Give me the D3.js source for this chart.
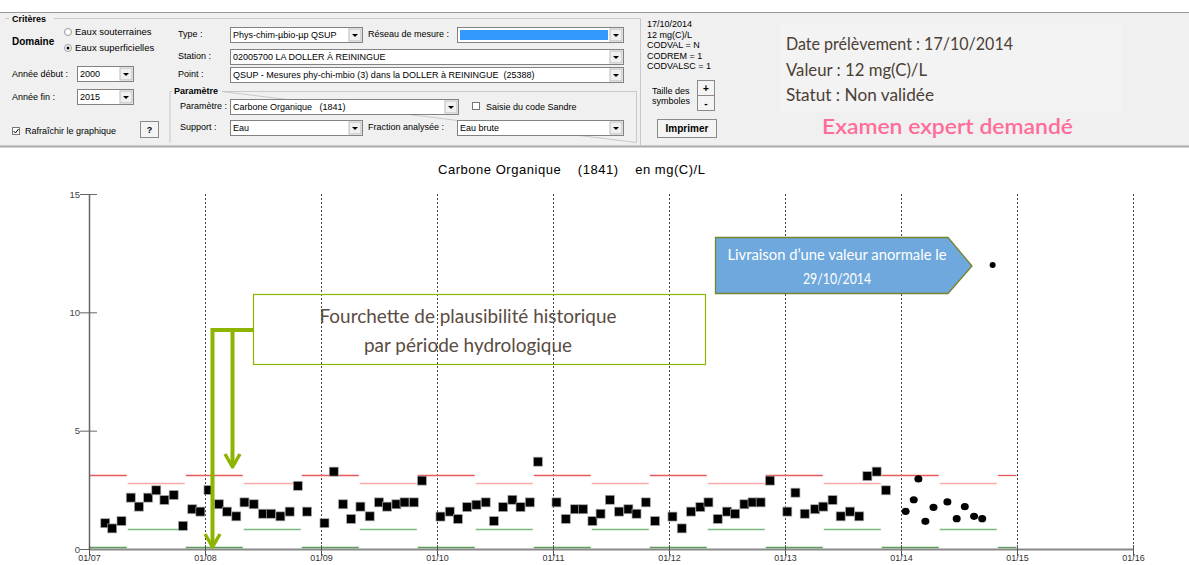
<!DOCTYPE html>
<html>
<head>
<meta charset="utf-8">
<script src="https://cdn.jsdelivr.net/npm/d3@7"></script>
<style>
  body { margin: 0; background: #fff; }
  svg text { font-family: "Liberation Sans", Arial, sans-serif; }
</style>
</head>
<body>
<svg id="chart"></svg>
<script>
var width = 1189;
var height = 565;

// mesures validées (année décimale, mg(C)/L)
var validDates = [2007.14, 2007.20, 2007.28, 2007.36, 2007.43, 2007.51, 2007.58, 2007.65, 2007.73, 2007.81,
  2007.89, 2007.96, 2008.03, 2008.12, 2008.19, 2008.27, 2008.34, 2008.42, 2008.50, 2008.57, 2008.65, 2008.73,
  2008.80, 2008.88, 2009.03, 2009.11, 2009.19, 2009.26, 2009.34, 2009.42, 2009.50, 2009.57, 2009.65, 2009.72,
  2009.80, 2009.87, 2010.03, 2010.11, 2010.18, 2010.26, 2010.34, 2010.42, 2010.49, 2010.57, 2010.65, 2010.72,
  2010.80, 2010.87, 2011.03, 2011.11, 2011.19, 2011.26, 2011.34, 2011.41, 2011.49, 2011.57, 2011.65, 2011.72,
  2011.80, 2011.88, 2012.03, 2012.11, 2012.19, 2012.27, 2012.34, 2012.42, 2012.50, 2012.57, 2012.65, 2012.72,
  2012.79, 2012.87, 2013.02, 2013.09, 2013.17, 2013.26, 2013.33, 2013.41, 2013.48, 2013.56, 2013.64, 2013.71,
  2013.79, 2013.87];
var validValues = [1.09, 0.87, 1.18, 2.17, 1.79, 2.17, 2.48, 2.07, 2.28, 0.98,
  1.68, 1.58, 2.49, 1.89, 1.58, 1.38, 1.97, 1.89, 1.49, 1.49, 1.38, 1.58,
  2.67, 1.58, 1.09, 3.27, 1.89, 1.27, 1.79, 1.38, 1.97, 1.79, 1.89, 1.97,
  1.97, 2.89, 1.37, 1.58, 1.27, 1.77, 1.87, 1.97, 1.18, 1.77, 2.08, 1.77,
  1.97, 3.69, 1.97, 1.27, 1.68, 1.68, 1.18, 1.49, 2.08, 1.58, 1.68, 1.49,
  1.97, 1.18, 1.37, 0.87, 1.58, 1.77, 1.97, 1.27, 1.58, 1.49, 1.89, 1.97,
  1.97, 2.89, 1.58, 2.38, 1.49, 1.68, 1.79, 2.07, 1.38, 1.58, 1.38, 3.08,
  3.27, 2.48];

// mesures non validées 2014
var pendingDates = [2014.04, 2014.11, 2014.15, 2014.21, 2014.28, 2014.40, 2014.48, 2014.55, 2014.63, 2014.70];
var pendingValues = [1.59, 2.08, 2.96, 1.17, 1.76, 1.99, 1.28, 1.79, 1.38, 1.28];

// valeur anormale
var anomalyDate = [2014.79];
var anomalyValue = [12];

// périodes hydrologiques et fourchettes
var periodBounds = [2007.0, 2007.33, 2007.83, 2008.33, 2008.83, 2009.33, 2009.83, 2010.33, 2010.83, 2011.33,
  2011.83, 2012.33, 2012.83, 2013.33, 2013.83, 2014.33, 2014.83, 2015.0];
var periodKind = ["H", "B", "H", "B", "H", "B", "H", "B", "H", "B", "H", "B", "H", "B", "H", "B", "H"];
var upperByKind = { H: 3.12, B: 2.8 };
var lowerByKind = { H: 0.08, B: 0.85 };

var yTicks = [0, 5, 10, 15];
var xTicks = [2007, 2008, 2009, 2010, 2011, 2012, 2013, 2014, 2015, 2016];
var xTickLabels = ["01/07", "01/08", "01/09", "01/10", "01/11", "01/12", "01/13", "01/14", "01/15", "01/16"];

var svg = d3.select("#chart")
            .attr("width", width)
            .attr("height", height);

// ---------- panneau de critères ----------
var panel = svg.append("g");

panel.append("rect")
  .attr("x", 0).attr("y", 12).attr("width", width).attr("height", 135)
  .attr("fill", "#f0f0f0");
panel.append("line")
  .attr("x1", 0).attr("x2", width).attr("y1", 12.5).attr("y2", 12.5)
  .attr("stroke", "#999");
panel.append("line")
  .attr("x1", 0).attr("x2", width).attr("y1", 146.5).attr("y2", 146.5)
  .attr("stroke", "#aaa").attr("stroke-width", 2);

// cadre Critères
panel.append("path")
  .attr("d", "M5,18.5 H9 M54,18.5 H640.5 V145")
  .attr("fill", "none").attr("stroke", "#c8c8c8");

function label(x, y, txt, opts) {
  opts = opts || {};
  return panel.append("text")
    .attr("x", x).attr("y", y)
    .attr("font-size", opts.size || 9)
    .attr("font-weight", opts.bold ? "bold" : "normal")
    .attr("fill", opts.color || "#000")
    .attr("text-anchor", opts.anchor || "start")
    .style("white-space", "pre")
    .text(txt);
}

function select(x, y, w, txt, fill) {
  var g = panel.append("g");
  g.append("rect").attr("x", x + 0.5).attr("y", y + 0.5).attr("width", w).attr("height", 15)
    .attr("fill", "#fff").attr("stroke", "#828282");
  if (fill) {
    g.append("rect").attr("x", x + 3).attr("y", y + 3).attr("width", w - 18).attr("height", 10)
      .attr("fill", fill);
  }
  g.append("rect").attr("x", x + w - 13).attr("y", y + 2).attr("width", 12).attr("height", 12)
    .attr("fill", "#f0f0f0").attr("stroke", "#bbb");
  g.append("path")
    .attr("d", "M" + (x + w - 10) + "," + (y + 7) + " h6 l-3,3 z")
    .attr("fill", "#000");
  if (txt) {
    g.append("text").attr("x", x + 3).attr("y", y + 11).attr("font-size", 9)
      .style("white-space", "pre").text(txt);
  }
}

function button(x, y, w, h, txt, bold) {
  panel.append("rect").attr("x", x + 0.5).attr("y", y + 0.5).attr("width", w).attr("height", h)
    .attr("fill", "#f4f4f4").attr("stroke", "#8a8a8a");
  panel.append("text").attr("x", x + w / 2 + 0.5).attr("y", y + h / 2 + 4)
    .attr("text-anchor", "middle").attr("font-size", bold ? 10 : 9)
    .attr("font-weight", "bold").text(txt);
}

label(12, 22, "Critères", { bold: true });
label(12, 45, "Domaine", { bold: true, size: 10 });

panel.append("circle").attr("cx", 68).attr("cy", 32).attr("r", 3.5)
  .attr("fill", "#fff").attr("stroke", "#999");
label(75, 35, "Eaux souterraines", { size: 9.5 });
panel.append("circle").attr("cx", 68).attr("cy", 48).attr("r", 3.5)
  .attr("fill", "#fff").attr("stroke", "#999");
panel.append("circle").attr("cx", 68).attr("cy", 48).attr("r", 1.5).attr("fill", "#000");
label(75, 51, "Eaux superficielles", { size: 9.5 });

label(12, 77, "Année début :");
select(77, 66, 56, "2000");
label(12, 100, "Année fin :");
select(77, 89, 56, "2015");

panel.append("rect").attr("x", 12.5).attr("y", 127.5).attr("width", 7).attr("height", 7)
  .attr("fill", "#fff").attr("stroke", "#777");
panel.append("path").attr("d", "M13.5,131 l2,2 l3,-4").attr("fill", "none").attr("stroke", "#000");
label(25, 134, "Rafraîchir le graphique");
button(140, 121, 18, 16, "?", false);

label(178, 37, "Type :");
select(230, 27, 132, "Phys-chim-µbio-µp QSUP");
label(368, 37, "Réseau de mesure :");
select(457, 27, 166, "", "#3399ff");
label(178, 59, "Station :");
select(230, 49, 393, "02005700 LA DOLLER À REININGUE");
label(178, 77, "Point :");
select(230, 67, 393, "QSUP - Mesures phy-chi-mbio (3) dans la DOLLER à REININGUE  (25388)");

// cadre Paramètre
panel.append("path")
  .attr("d", "M170,142.5 V91.5 H172 M222,91.5 H636.5 V142.5 Z")
  .attr("fill", "none").attr("stroke", "#c8c8c8");
label(174, 94, "Paramètre", { bold: true });
label(180, 109, "Paramètre :");
select(230, 99, 228, "Carbone Organique   (1841)");
panel.append("rect").attr("x", 472.5).attr("y", 102.5).attr("width", 7).attr("height", 7)
  .attr("fill", "#fff").attr("stroke", "#777");
label(486, 110, "Saisie du code Sandre");
label(180, 130, "Support :");
select(230, 120, 132, "Eau");
label(368, 130, "Fraction analysée :");
select(457, 120, 166, "Eau brute");

var infoLines = ["17/10/2014", "12 mg(C)/L", "CODVAL = N", "CODREM = 1", "CODVALSC = 1"];
infoLines.forEach(function (t, i) { label(647, 27 + i * 10.5, t); });

label(652, 94, "Taille des");
label(652, 104, "symboles");
button(697, 80, 17, 15, "+", true);
button(697, 95, 17, 15, "-", true);
button(657, 119, 59, 18, "Imprimer", true);

// encart droit
panel.append("rect").attr("x", 780).attr("y", 24).attr("width", 342).attr("height", 88)
  .attr("fill", "#f3f3f3");
var infoFont = "Lato, 'Open Sans', sans-serif";
var infoTexts = ["Date prélèvement : 17/10/2014", "Valeur : 12 mg(C)/L", "Statut : Non validée"];
var infoWidths = [227, 141, 148];
infoTexts.forEach(function (t, i) {
  panel.append("text").attr("x", 786).attr("y", 50 + i * 25.5)
    .attr("font-size", 18).attr("fill", "#4b4036")
    .attr("textLength", infoWidths[i]).attr("lengthAdjust", "spacingAndGlyphs")
    .style("font-family", infoFont).text(t);
});
panel.append("text").attr("x", 822).attr("y", 134)
  .attr("font-size", 21.5).attr("font-weight", 600).attr("fill", "#ff6c9a")
  .attr("textLength", 251).attr("lengthAdjust", "spacingAndGlyphs")
  .style("font-family", infoFont).text("Examen expert demandé");

// ---------- graphique ----------
var xScale = d3.scaleLinear().domain([2007, 2016]).range([89, 1133]);
var yScale = d3.scaleLinear().domain([0, 15]).range([549, 194]);

svg.append("text")
  .attr("x", 438).attr("y", 174)
  .attr("font-size", 13)
  .attr("textLength", 267).attr("lengthAdjust", "spacing")
  .style("white-space", "pre")
  .text("Carbone Organique    (1841)    en mg(C)/L");

// lignes verticales pointillées
svg.append("g")
  .selectAll("line")
  .data(xTicks.slice(1))
  .enter()
  .append("line")
    .attr("x1", d => Math.round(xScale(d)) + 0.5)
    .attr("x2", d => Math.round(xScale(d)) + 0.5)
    .attr("y1", yScale(15))
    .attr("y2", yScale(0))
    .attr("stroke", "#444")
    .attr("stroke-dasharray", "2,2");

// fourchettes par période
var periods = periodKind.map((k, i) => ({ kind: k, start: periodBounds[i], end: periodBounds[i + 1] }));

var bands = svg.append("g");
function bandLines(key, fn, colorFn) {
  bands.selectAll("line." + key)
    .data(periods)
    .enter()
    .append("line")
      .attr("class", key)
      .attr("x1", d => xScale(d.start) + 0.5)
      .attr("x2", d => xScale(d.end) - 0.5)
      .attr("y1", d => Math.round(yScale(fn(d))) + 0.5)
      .attr("y2", d => Math.round(yScale(fn(d))) + 0.5)
      .attr("stroke", colorFn)
      .attr("stroke-width", 1.3);
}
bandLines("up", d => upperByKind[d.kind], d => d.kind == "H" ? "#e65a5a" : "#ffaaaa");
bandLines("low", d => lowerByKind[d.kind], d => d.kind == "H" ? "#5a9e5a" : "#7dbb7d");

// axes
var yAxis = d3.axisLeft(yScale).tickValues(yTicks).tickSize(9).tickSizeOuter(0);
var yG = svg.append("g")
  .attr("transform", "translate(89,0)")
  .call(yAxis);
yG.select(".domain").attr("stroke", "#666").attr("stroke-width", 1.5);
yG.selectAll(".tick line").attr("x2", 8).attr("x1", -9).attr("stroke", "#666");
yG.selectAll(".tick text").attr("font-size", 9.5).attr("fill", "#444").attr("x", -9);

var xG = svg.append("g")
  .attr("transform", "translate(0,549)")
  .call(d3.axisBottom(xScale).tickValues(xTicks).tickFormat((d, i) => xTickLabels[i]).tickSize(7).tickSizeOuter(0));
xG.select(".domain").attr("stroke", "#888").attr("stroke-width", 2);
xG.selectAll(".tick line").attr("y1", -4).attr("stroke", "#555");
xG.selectAll(".tick text").attr("font-size", 9).attr("fill", "#333").attr("y", 5.5);

// points validés
var validData = validDates.map((d, i) => ({ date: d, value: validValues[i] }));
svg.append("g")
  .selectAll("rect")
  .data(validData)
  .enter()
  .append("rect")
    .attr("x", d => xScale(d.date) - 4.5)
    .attr("y", d => yScale(d.value) - 4.5)
    .attr("width", 9)
    .attr("height", 9)
    .attr("fill", "#000")
    .attr("stroke", "#aaa")
    .attr("stroke-width", 0.7);

// points non validés
var pendingData = pendingDates.map((d, i) => ({ date: d, value: pendingValues[i] }));
svg.append("g")
  .selectAll("ellipse")
  .data(pendingData)
  .enter()
  .append("ellipse")
    .attr("cx", d => xScale(d.date))
    .attr("cy", d => yScale(d.value))
    .attr("rx", 4)
    .attr("ry", 3.6)
    .attr("fill", "#000");

svg.append("g")
  .selectAll("circle")
  .data(anomalyDate.map((d, i) => ({ date: d, value: anomalyValue[i] })))
  .enter()
  .append("circle")
    .attr("cx", d => xScale(d.date))
    .attr("cy", d => yScale(d.value))
    .attr("r", 3)
    .attr("fill", "#000");

// ---------- annotations ----------
var green = "#8cb400";
var ann = svg.append("g");
ann.append("rect")
  .attr("x", 253.5).attr("y", 294.5).attr("width", 452).attr("height", 70)
  .attr("fill", "none").attr("stroke", green).attr("stroke-width", 1.2);
["Fourchette de plausibilité historique", "par période hydrologique"].forEach(function (t, i) {
  ann.append("text").attr("x", 468).attr("y", 323 + i * 29)
    .attr("text-anchor", "middle").attr("font-size", 18.5).attr("fill", "#5a4c42")
    .attr("textLength", i == 0 ? 297 : 208).attr("lengthAdjust", "spacingAndGlyphs")
    .style("font-family", infoFont).text(t);
});
ann.append("path")
  .attr("d", "M253,330 H212.5 V547 M232.5,330 V466")
  .attr("fill", "none").attr("stroke", green).attr("stroke-width", 4);
ann.append("path")
  .attr("d", "M205,534 L212.5,547 L220,534 M225,454 L232.5,467 L240,454")
  .attr("fill", "none").attr("stroke", green).attr("stroke-width", 3.5)
  .attr("stroke-linejoin", "round");

ann.append("path")
  .attr("d", "M715.5,237.5 H948 L972,266 L948,293.5 H715.5 Z")
  .attr("fill", "#6fa8dc").attr("stroke", "#74852a").attr("stroke-width", 1.3);
["Livraison d’une valeur anormale le", "29/10/2014"].forEach(function (t, i) {
  ann.append("text").attr("x", 837).attr("y", 260 + i * 24)
    .attr("text-anchor", "middle").attr("font-size", 14.5).attr("fill", "#fff")
    .attr("textLength", i == 0 ? 219 : 68).attr("lengthAdjust", "spacingAndGlyphs")
    .style("font-family", infoFont).text(t);
});
</script>
</body>
</html>
